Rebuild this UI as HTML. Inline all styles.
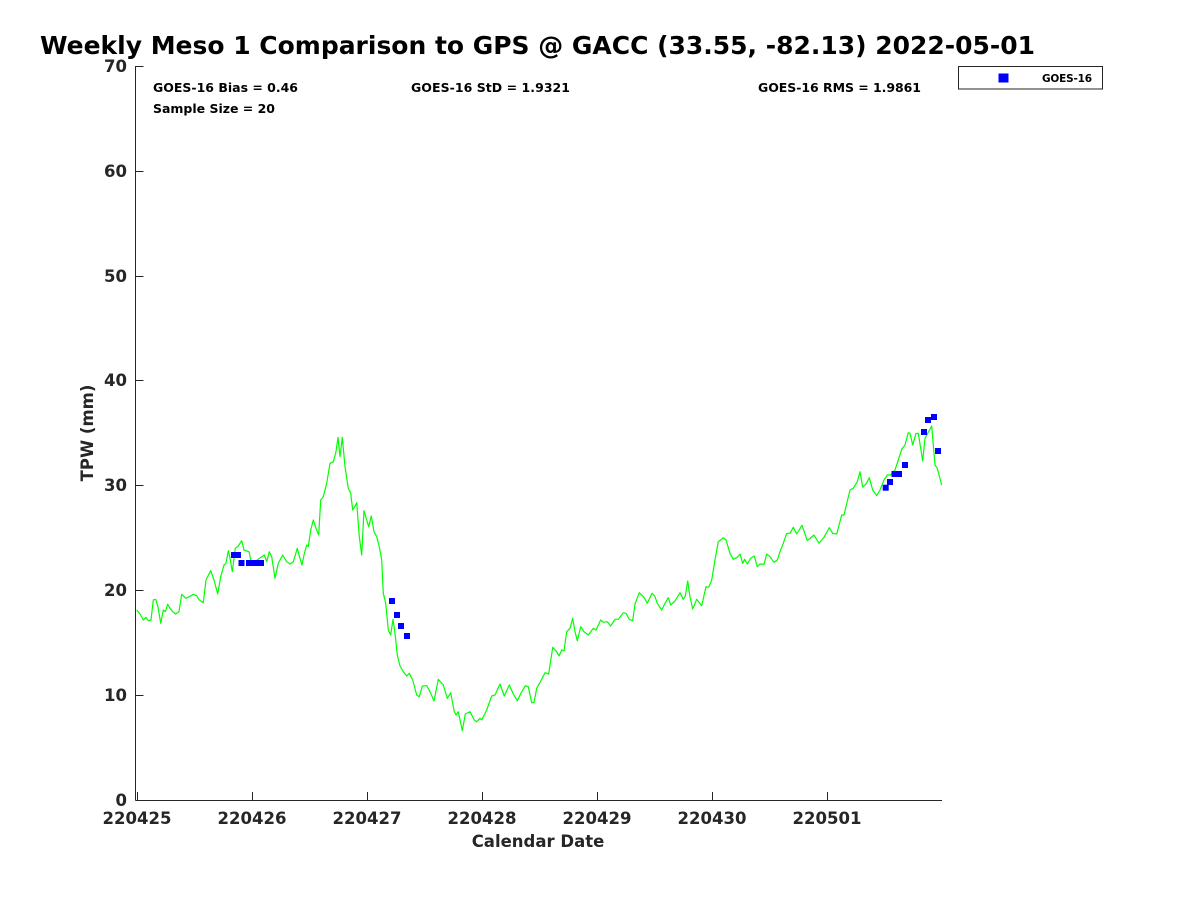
<!DOCTYPE html>
<html>
<head>
<meta charset="utf-8">
<style>
  html, body { margin: 0; padding: 0; background: #fff; }
  svg { display: block; }
  text { font-family: "DejaVu Sans", "Liberation Sans", sans-serif; font-weight: bold; }
</style>
</head>
<body>
<svg width="1200" height="900" viewBox="0 0 1200 900" xmlns="http://www.w3.org/2000/svg">
  <rect x="0" y="0" width="1200" height="900" fill="#ffffff"/>

  <!-- Title -->
  <text x="40" y="54" font-size="25" fill="#000" textLength="995" lengthAdjust="spacingAndGlyphs">Weekly Meso 1 Comparison to GPS @ GACC (33.55, -82.13) 2022-05-01</text>

  <!-- Axes -->
  <g stroke="#262626" stroke-width="1" fill="none" shape-rendering="crispEdges">
    <line x1="135.5" y1="66" x2="135.5" y2="800.5"/>
    <line x1="135.5" y1="800.5" x2="942" y2="800.5"/>
    <!-- y ticks -->
    <line x1="135.5" y1="66.5" x2="143.5" y2="66.5"/>
    <line x1="135.5" y1="171.5" x2="143.5" y2="171.5"/>
    <line x1="135.5" y1="276.5" x2="143.5" y2="276.5"/>
    <line x1="135.5" y1="380.5" x2="143.5" y2="380.5"/>
    <line x1="135.5" y1="485.5" x2="143.5" y2="485.5"/>
    <line x1="135.5" y1="590.5" x2="143.5" y2="590.5"/>
    <line x1="135.5" y1="695.5" x2="143.5" y2="695.5"/>
    <!-- x ticks -->
    <line x1="137.5" y1="800" x2="137.5" y2="792"/>
    <line x1="252.5" y1="800" x2="252.5" y2="792"/>
    <line x1="367.5" y1="800" x2="367.5" y2="792"/>
    <line x1="482.5" y1="800" x2="482.5" y2="792"/>
    <line x1="597.5" y1="800" x2="597.5" y2="792"/>
    <line x1="712.5" y1="800" x2="712.5" y2="792"/>
    <line x1="827.5" y1="800" x2="827.5" y2="792"/>
  </g>

  <!-- Y tick labels -->
  <g font-size="16.5" fill="#262626" text-anchor="end">
    <text x="127" y="72">70</text>
    <text x="127" y="177">60</text>
    <text x="127" y="282">50</text>
    <text x="127" y="386">40</text>
    <text x="127" y="491">30</text>
    <text x="127" y="596">20</text>
    <text x="127" y="701">10</text>
    <text x="127" y="806">0</text>
  </g>

  <!-- X tick labels -->
  <g font-size="16.5" fill="#262626" text-anchor="middle">
    <text x="137" y="824">220425</text>
    <text x="252" y="824">220426</text>
    <text x="367" y="824">220427</text>
    <text x="482" y="824">220428</text>
    <text x="597" y="824">220429</text>
    <text x="712" y="824">220430</text>
    <text x="827" y="824">220501</text>
  </g>

  <!-- Axis labels -->
  <text x="538" y="847" font-size="16.5" fill="#262626" text-anchor="middle">Calendar Date</text>
  <text transform="translate(93,433) rotate(-90)" x="0" y="0" font-size="16.5" fill="#262626" text-anchor="middle">TPW (mm)</text>

  <!-- Stats -->
  <g font-size="12.5" fill="#000">
    <text x="153" y="92" textLength="145" lengthAdjust="spacing">GOES-16 Bias = 0.46</text>
    <text x="153" y="113" textLength="122" lengthAdjust="spacing">Sample Size = 20</text>
    <text x="411" y="92" textLength="159" lengthAdjust="spacing">GOES-16 StD = 1.9321</text>
    <text x="758" y="92" textLength="163" lengthAdjust="spacing">GOES-16 RMS = 1.9861</text>
  </g>

  <!-- Legend -->
  <rect x="958.5" y="66.5" width="144" height="22.5" fill="#fff" stroke="#262626" stroke-width="1"/>
  <rect x="998.5" y="73.5" width="10" height="9" fill="#0000ff"/>
  <text x="1042" y="82" font-size="10.5" fill="#000" textLength="50" lengthAdjust="spacing">GOES-16</text>

  <!-- Green GPS series -->
  <polyline fill="none" stroke="#00ff00" stroke-width="1.2" stroke-linejoin="round" points="
136.7,610 140,614 143.3,620 146,617.3 148.3,620.7 151,620 153.3,600 155.7,599.3 158,606.7 160.7,623.3 163.3,610 165.3,611.7 167.7,604.3 170,608.3 172.7,611.7 175.7,614 179,611.7 181.7,594.3 185.7,598.3 189.3,596.7 193.3,594.3 196.7,595.7 199.3,600 203.3,602.7 206,580 210.7,570.7 214,580 217.7,594 220.7,576.7 224,565 226,563.3 228.3,550.7 230,558.3 232.3,571.7 235.3,548.3 238.3,546 241.7,540.7 244,550 246.7,551 249,551.7 251.7,564.3 254.3,561.7 257.3,560 261.7,556.7 264.3,555 266.7,561.7 269.3,551.7 271.7,556.7 275,578.3 278.3,563.3 282.7,555 286.7,561.7 290,564 293.3,561.7 297.3,548.3 300,558.3 302,565 304,555 306.7,545 308.3,546.7 310.7,530 313.3,520 316,528.3 318.7,535 320.7,500 323.3,496.7 326.7,483.3 330,463.3 333.3,461.7 336,451.7 338,437.3 340,456.7 342.3,437.3 345,466.7 348.3,488.3 350.7,493.3 352.7,510 354.7,506.7 356.7,502.7 359.3,536.7 361.7,555 364,510.7 366.7,520 368.7,526.7 371.3,516 374,531.7 376.7,536.7 379.3,546.7 381.7,560
383.3,593.3 385.7,603.3 388.3,630 390.7,635 393,619.3 395,633.3 397.3,655 400,666 403.3,671.7 406.7,676 409.3,673.3 412.7,680 416.7,695 419.3,696.7 422.3,686 426.7,685.7 430,691.7 434,701 438.3,679.3 443.3,685 447.3,698.3 450.7,692.7 454.3,711.7 456,715 458.3,711.7 462.3,730.7 465.3,714 470,711.7 474.3,720 476.7,721.7 480,718.3 481.7,720 486.7,710 491.7,696 495,695 500,684 504.3,696 509.3,685 513.3,694 517.3,700.7 521.3,692.7 525.3,685.7 528.3,686.7 531.7,702.7 534,702.7 536.7,688.3 541.7,679.3 545,672.7 548.7,674 552.7,647.3 556.7,651.7 559,656 561.7,650 564,650.7 566.7,631.7 570,628.3 572.7,618.3 575,631.7 577.3,640.7 580.7,626.7 584,631.7 588.3,635 593.3,628.3 596,630 600.7,620 603.3,622.3 607.3,621.7 610.7,626 615,619.3 618.3,619.3 623.3,612.7 626,613.3 629.3,619.3 632.7,620.7
635,604 639.3,592.7 644,597.3 647.3,603.3 652,593.3 654.7,596 657.3,603.3 661.7,610 665,603.3 668.3,597.7 670.7,605 675,601 680,592.7 683.3,599.3 685.3,596 687.7,581 690,596.7 692.7,609 696.7,599.3 701.7,605.7 706,586.7 708.7,587.3 711.7,580 715,560 718.3,541.7 723.3,537.7 726,540 730,553.3 733.3,559.3 737.3,557.3 740,554 742.7,563.3 744.7,559.3 747.3,564 750.7,558.3 754.3,556 757.3,566.7 760,564 764,564.3 766.7,554 770,556.7 774,562.3 777.3,560 780,551.7 783.3,543.3 786.7,533.3 790,533.3 793.3,527.3 796.7,534 802,525.3 807.3,540.7 814,535 819,543.3 824,537.3 829.3,527.7 832.7,533.3 836.7,534 841.7,515 844,515 850,490 853.3,488.3 857.3,481.7 860,471.7 862.7,487.3 866,484 869.3,477.7 872.7,490 876.7,495.7 880,490 884,480 887.3,475 890.7,475 895,470 898.3,460 901.7,449.3 905,445 908.3,432.7 910,433.3 912.7,445 916,433.3 918.3,433.3 922.7,461 925,438.3 931.7,426 935,465 937.3,468.3 941.7,485"/>

  <!-- Blue GOES-16 squares -->
  <g fill="#0000ff">
    <rect x="231" y="552" width="6" height="6"/>
    <rect x="235" y="552" width="6" height="6"/>
    <rect x="238.5" y="560" width="6" height="6"/>
    <rect x="246" y="560" width="6" height="6"/>
    <rect x="252" y="560" width="6" height="6"/>
    <rect x="258" y="560" width="6" height="6"/>
    <rect x="389" y="598" width="6" height="6"/>
    <rect x="394" y="612" width="6" height="6"/>
    <rect x="398" y="623" width="6" height="6"/>
    <rect x="404" y="633" width="6" height="6"/>
    <rect x="882.7" y="484.7" width="6" height="6"/>
    <rect x="887" y="479" width="6" height="6"/>
    <rect x="891.5" y="471" width="6" height="6"/>
    <rect x="896" y="471" width="6" height="6"/>
    <rect x="902" y="462" width="6" height="6"/>
    <rect x="921" y="429" width="6" height="6"/>
    <rect x="925" y="417" width="6" height="6"/>
    <rect x="931" y="414" width="6" height="6"/>
    <rect x="935" y="448" width="6" height="6"/>
  </g>
</svg>
</body>
</html>
